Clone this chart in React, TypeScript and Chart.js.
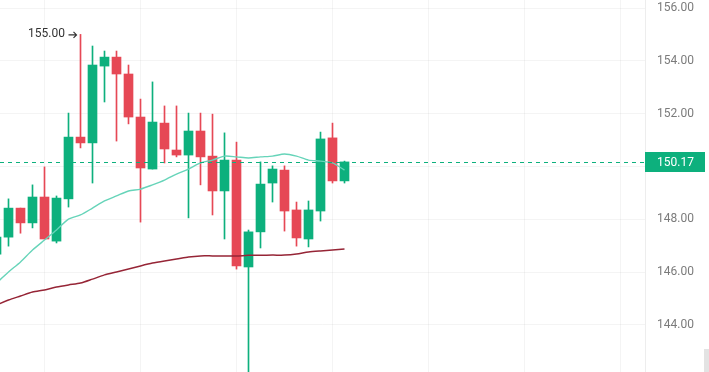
import React, { useEffect, useRef } from "react";
import { Chart, registerables } from "chart.js";

Chart.register(...registerables);

// ---- data ----
const candleIndex = [-1, 0, 1, 2, 3, 4, 5, 6, 7, 8, 9, 10, 11, 12, 13, 14, 15, 16, 17, 18, 19, 20, 21, 22, 23, 24, 25, 26, 27, 28];
const opens = [146.68, 147.32, 148.42, 147.86, 148.84, 147.17, 148.77, 151.11, 150.89, 153.8, 154.14, 153.5, 151.87, 149.9, 151.64, 150.62, 150.43, 151.34, 150.39, 149.07, 150.24, 146.19, 147.52, 149.37, 149.86, 148.35, 147.25, 148.31, 151.08, 149.45];
const highs = [147.59, 148.77, 148.42, 149.3, 149.98, 148.88, 152.02, 155.0, 154.56, 154.37, 154.37, 153.84, 152.55, 153.2, 152.29, 152.29, 152.02, 152.02, 151.98, 151.27, 150.92, 147.59, 150.17, 150.02, 150.02, 148.65, 148.69, 151.3, 151.64, 150.2];
const lows = [146.53, 146.98, 147.47, 147.67, 147.25, 147.1, 148.46, 150.7, 149.37, 152.44, 150.96, 151.61, 147.89, 149.9, 150.13, 150.36, 148.05, 149.3, 148.16, 147.25, 146.11, 142.0, 146.91, 148.65, 147.55, 146.98, 146.95, 147.93, 149.37, 149.37];
const closes = [147.32, 148.42, 147.86, 148.84, 147.25, 148.8, 151.11, 150.89, 153.84, 154.14, 153.5, 151.87, 149.94, 151.68, 150.66, 150.43, 151.34, 150.36, 149.07, 150.24, 146.23, 147.52, 149.33, 149.9, 148.31, 147.29, 148.35, 151.04, 149.45, 150.17];
const maFast = [145.58, 146.0, 146.38, 146.83, 147.21, 147.59, 148.0, 148.16, 148.42, 148.69, 148.88, 149.07, 149.14, 149.3, 149.48, 149.71, 149.9, 150.13, 150.24, 150.39, 150.36, 150.32, 150.36, 150.39, 150.47, 150.39, 150.24, 150.2, 150.13, 149.86];
const maSlow = [144.75, 144.94, 145.09, 145.24, 145.32, 145.43, 145.51, 145.58, 145.73, 145.89, 146.0, 146.11, 146.23, 146.34, 146.42, 146.49, 146.57, 146.61, 146.61, 146.61, 146.61, 146.63, 146.63, 146.64, 146.64, 146.68, 146.76, 146.8, 146.83, 146.87];
const yTickValues = [144, 146, 148, 150, 152, 154, 156];
const xGridValues = [3, 11, 19, 27, 35, 43, 51];
const lastPrice = 150.17;

const GREEN = "#0db07d";
const RED = "#e64855";
const FONT = "Roboto, 'Noto Sans', sans-serif";

export default function App() {
  const ref = useRef<HTMLCanvasElement>(null);

  useEffect(() => {
    const canvas = ref.current;
    if (!canvas) return;
    const colors = closes.map((c, i) => (c >= opens[i] ? GREEN : RED));

    const overlay = {
      id: "overlay",
      afterDatasetsDraw(chart: any) {
        const { ctx, chartArea, scales } = chart;
        const x = scales.x;
        const y = scales.y;
        // last price dashed line
        const py = Math.round(y.getPixelForValue(lastPrice)) + 0.5;
        ctx.save();
        ctx.strokeStyle = GREEN;
        ctx.lineWidth = 1;
        ctx.setLineDash([4, 4]);
        ctx.beginPath();
        ctx.moveTo(chartArea.left, py);
        ctx.lineTo(chartArea.right, py);
        ctx.stroke();
        ctx.setLineDash([]);
        // highest high annotation
        let k = 0;
        highs.forEach((h, i) => {
          if (h > highs[k]) k = i;
        });
        const hx = x.getPixelForValue(candleIndex[k]);
        const hy = y.getPixelForValue(highs[k]);
        ctx.fillStyle = "#333333";
        ctx.font = `12px ${FONT}`;
        ctx.textAlign = "right";
        ctx.textBaseline = "middle";
        ctx.fillText(highs[k].toFixed(2), hx - 15.5, hy);
        ctx.strokeStyle = "#333333";
        ctx.lineWidth = 1.2;
        ctx.beginPath();
        ctx.moveTo(hx - 12, hy + 0.5);
        ctx.lineTo(hx - 4, hy + 0.5);
        ctx.moveTo(hx - 7, hy - 2.5);
        ctx.lineTo(hx - 4, hy + 0.5);
        ctx.lineTo(hx - 7, hy + 3.5);
        ctx.stroke();
        ctx.restore();
      },
      afterDraw(chart: any) {
        const { ctx, chartArea, scales } = chart;
        const y = scales.y;
        const py = Math.round(y.getPixelForValue(lastPrice));
        ctx.save();
        ctx.fillStyle = GREEN;
        ctx.fillRect(chartArea.right, py - 10, 60, 20);
        ctx.fillStyle = "#ffffff";
        ctx.font = `12px ${FONT}`;
        ctx.textAlign = "left";
        ctx.textBaseline = "middle";
        ctx.fillText(lastPrice.toFixed(2), chartArea.right + 12, py + 0.5);
        ctx.restore();
      },
    };

    const chart = new Chart(canvas, {
      type: "bar",
      data: {
        datasets: [
          {
            type: "line",
            data: candleIndex.map((v, i) => ({ x: v, y: maFast[i] })),
            borderColor: "#66d4b9",
            borderWidth: 1.4,
            pointRadius: 0,
            tension: 0.25,
            order: 0,
          } as any,
          {
            type: "line",
            data: candleIndex.map((v, i) => ({ x: v, y: maSlow[i] })),
            borderColor: "#962536",
            borderWidth: 1.5,
            pointRadius: 0,
            tension: 0.25,
            order: 0,
          } as any,
          {
            type: "bar",
            data: candleIndex.map((v, i) => ({ x: v, y: [opens[i], closes[i]] })),
            backgroundColor: colors,
            borderWidth: 0,
            barThickness: 9,
            grouped: false,
            order: 1,
          } as any,
          {
            type: "bar",
            data: candleIndex.map((v, i) => ({ x: v, y: [lows[i], highs[i]] })),
            backgroundColor: colors,
            borderWidth: 0,
            barThickness: 1,
            grouped: false,
            order: 2,
          } as any,
        ],
      },
      options: {
        animation: false,
        responsive: false,
        events: [],
        layout: { padding: 0 },
        plugins: { legend: { display: false }, tooltip: { enabled: false } },
        scales: {
          x: {
            type: "linear",
            offset: false,
            min: -8.5 / 12,
            max: -8.5 / 12 + 645 / 12,
            ticks: { display: false },
            grid: { color: "rgba(0,0,0,0.045)", drawTicks: false, offset: false },
            border: { display: false },
            afterBuildTicks: (s: any) => {
              s.ticks = xGridValues.map((v) => ({ value: v }));
            },
            afterFit: (s: any) => {
              s.height = 0;
              s.paddingLeft = 0;
              s.paddingRight = 0;
            },
          },
          y: {
            position: "right",
            min: 156 - 364 / 26.4,
            max: 156 + 8 / 26.4,
            grid: { color: "rgba(0,0,0,0.045)", drawTicks: false },
            border: { display: true, color: "rgba(0,0,0,0.07)" },
            ticks: {
              padding: 12,
              color: "#7b7b7b",
              font: { family: FONT, size: 12 },
              callback: (v: any) => (Math.abs(Number(v) - 150) < 0.001 ? "" : Number(v).toFixed(2)),
            },
            afterBuildTicks: (s: any) => {
              s.ticks = yTickValues.map((v) => ({ value: v }));
            },
            afterFit: (s: any) => {
              s.width = 64;
              s.paddingTop = 0;
              s.paddingBottom = 0;
            },
          },
        },
      } as any,
      plugins: [overlay],
    });
    return () => chart.destroy();
  }, []);

  return (
    <div style={{ position: "fixed", left: 0, top: 0, width: 709, height: 372, background: "#ffffff" }}>
      <canvas ref={ref} width={709} height={372} style={{ display: "block" }} />
      <div style={{ position: "absolute", left: 704, top: 349, width: 5, height: 23, background: "#e3e3e3" }} />
    </div>
  );
}
